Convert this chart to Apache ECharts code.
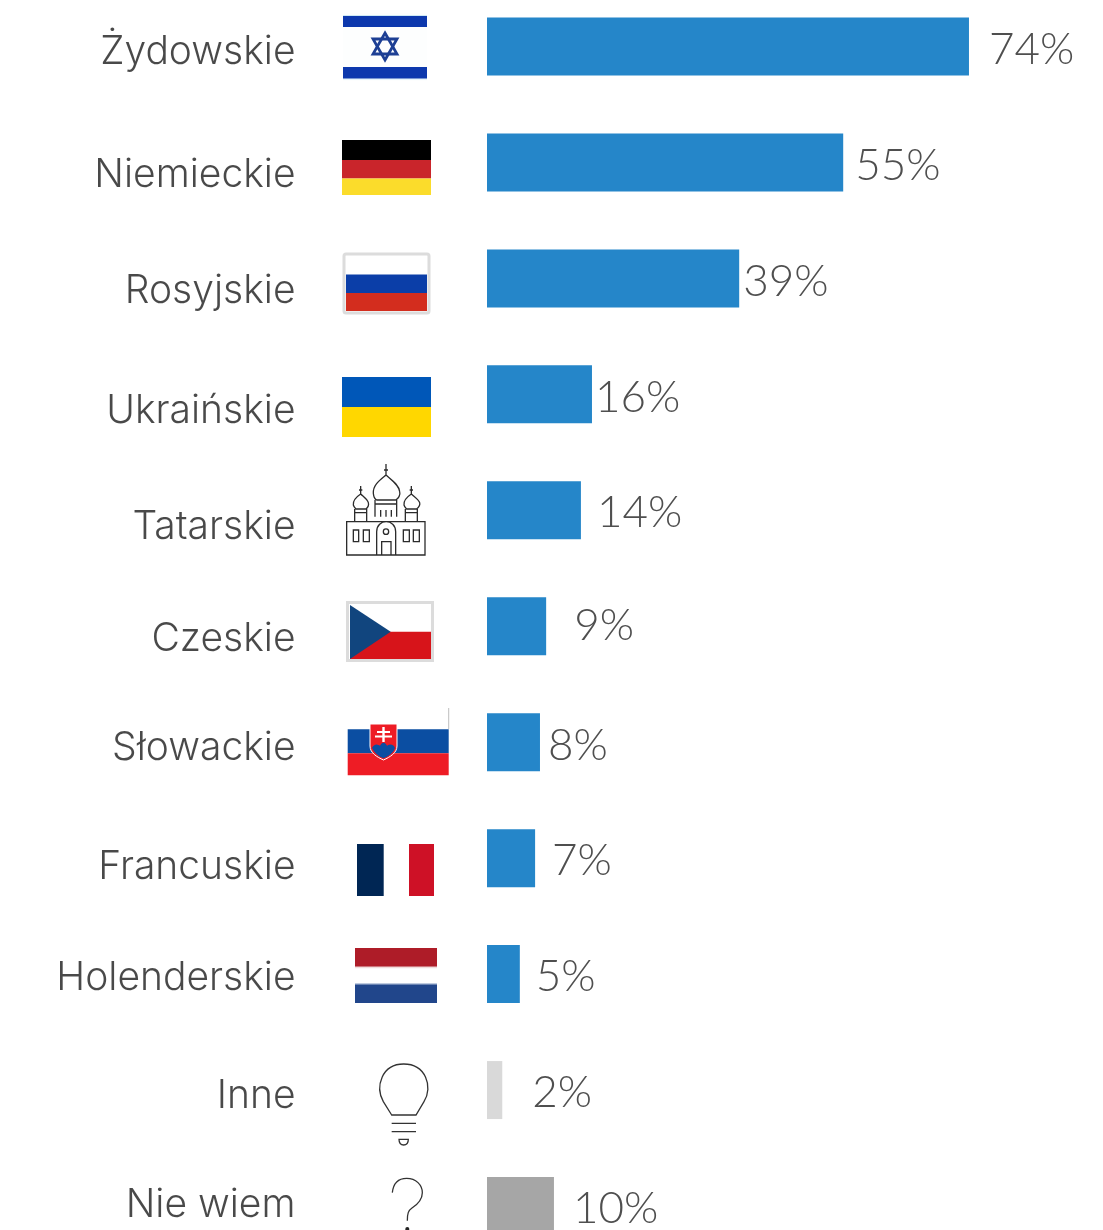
<!DOCTYPE html>
<html><head><meta charset="utf-8">
<style>html,body{margin:0;padding:0;background:#fff}#c{width:1103px;height:1230px}</style>
<script src="https://cdn.jsdelivr.net/npm/echarts@6/dist/echarts.min.js"></script>
</head><body><div id="c"></div>
<script>
const categories = ['Żydowskie','Niemieckie','Rosyjskie','Ukraińskie','Tatarskie','Czeskie','Słowackie','Francuskie','Holenderskie','Inne','Nie wiem'];
const barValues = [74.15,54.8,38.8,16.15,14.45,9.1,8.15,7.4,5.05,2.35,10.3];
const valueLabels = ['74%','55%','39%','16%','14%','9%','8%','7%','5%','2%','10%'];

// layout nudges, separate from the data
const BLUE='#2586c9', LIGHT='#d9d9d9', MID='#a6a6a6';
const barColors=[BLUE,BLUE,BLUE,BLUE,BLUE,BLUE,BLUE,BLUE,BLUE,LIGHT,MID];
const valueNudge=[[20,3],[12,3],[4,3],[3,3],[16,3],[28,0],[8,4],[17,3],[16,3],[30,3],[19,3]];
const nameNudge=[6,13,13,17,17,13.5,6.5,9.5,4.5,6.5,-0.5];
const VAL_FONT='Lato', CAT_FONT='Inter';

function rect(x,y,w,h,fill,extra){return Object.assign({type:'rect',shape:{x,y,width:w,height:h},style:{fill}},extra||{});}
function poly(points,fill,extra){return Object.assign({type:'polygon',shape:{points},style:{fill}},extra||{});}
// line icon: path written in 3x crop coordinates, placed at ox,oy
function icon(d,ox,oy,w,h,lw,color){
  return {type:'path',shape:{pathData:'M0 0 M'+(w*3)+' '+(h*3)+' '+d,x:ox,y:oy,width:w,height:h},layout:'cover',
    style:{fill:'none',stroke:color||'#2b2b2b',lineWidth:lw||1.3}};
}
const gfx=[
  // Israel
  rect(343,13,84,68,'#fdfefe'),
  rect(343,15,84,1,'#cfeaf5'),rect(343,78.5,84,1,'#cfeaf5'),
  rect(343,16,84,11,'#0d38ad'),rect(343,67,84,11.5,'#0d38ad'),
  {type:'polygon',shape:{points:[[385,33],[397,54],[373,54]]},style:{fill:null,stroke:'#1d3f94',lineWidth:2.8}},
  {type:'polygon',shape:{points:[[385,60],[397,39],[373,39]]},style:{fill:null,stroke:'#1d3f94',lineWidth:2.8}},
  // Germany
  rect(342,140,89,20,'#000'),rect(342,160,89,18.5,'#c9252b'),rect(342,178.5,89,16.5,'#fbdc2b'),
  // Russia
  {type:'rect',shape:{x:344,y:254,width:85,height:59,r:2},style:{fill:'#fff',stroke:'#dcdcdc',lineWidth:3}},
  rect(346,274.5,81,18.5,'#0b3ea8'),rect(346,293,81,18,'#d32d1e'),
  // Ukraine
  rect(342,377,89,30,'#0057b8'),rect(342,407,89,30,'#ffd700'),
  // Czech
  rect(347.5,602.5,85,58,'#fff',{style:{fill:'#fff',stroke:'#dcdcdc',lineWidth:3}}),
  rect(350,631.7,81,27.3,'#d7141a'),
  poly([[350,605],[390.7,631.7],[350,659]],'#11457e'),
  // Slovakia
  rect(448.2,708,1,21,'#bdbdbd'),
  rect(347.7,729.3,101,24,'#0b4ea2'),rect(347.7,753.3,101,22,'#ee1c25'),
  // France
  rect(357,844,26.7,52,'#002654'),rect(409,844,25,52,'#ce1126'),
  // Netherlands
  rect(355,948,82,18.7,'#ae1c28'),rect(355,984.3,82,18.7,'#21468b'),
  rect(355,966.7,82,1.5,'#f0dcdc'),rect(355,983.2,82,1.1,'#a9b8d4'),
  {type:'circle',shape:{cx:407.3,cy:1229,r:2},style:{fill:'#222'}}
];
// pieces that need free-form paths go through a custom series
const pathIcons=[
  icon('M50 215H285V315H50Z M168 42V75 M162 60H174 M168 75C150 90 128 105 130 130C131 140 135 148 140 150H197C205 146 212 135 209 125C207 105 185 90 168 75Z M135 150V200 M200 150V200 M135 162H200 M152 180V200 M168 180V200 M184 180V200 '+
   'M92 108V132 M87 120H97 M92 132C80 140 68 150 70 165C72 172 76 175 78 177H108C114 172 117 165 115 158C112 148 100 140 92 132Z M74 177V215 M110 177V215 M74 188H110 '+
   'M244 108V132 M239 120H249 M244 132C232 140 220 150 222 165C224 172 228 175 230 177H260C266 172 271 165 269 158C266 148 252 140 244 132Z M226 177V215 M262 177V215 M226 188H262 '+
   'M140 315V245C140 205 197 205 197 245V315 M155 315V275H183V315 M160 245C160 234 176 234 176 245C176 256 160 256 160 245Z '+
   'M70 240H86V275H70Z M100 240H118V275H100Z M220 240H238V275H220Z M250 240H268V275H250Z',330,450,130,110,1.3,'#2b2b2b'),
  {type:'path',shape:{pathData:'M370 724H397V746C397 753 390 757 383.5 760C377 757 370 753 370 746Z',x:370,y:724,width:27,height:36},layout:'cover',style:{fill:'#ee1c25',stroke:'#fff',lineWidth:1}},
  {type:'path',shape:{pathData:'M372 748C375 743 378 745 380 746C382 742 385 742 387 746C390 744 393 744 395 748C394 753 388 757 383.5 758.5C379 757 374 753 372 748Z',x:372,y:742.5,width:23,height:16},layout:'cover',style:{fill:'#0b4ea2'}},
  rect(382.3,727,2.4,15,'#fff'),rect(377,731,13,2,'#fff'),rect(375,735.5,17,2,'#fff'),
  icon('M155 885L130 845C105 800 125 732 191 732C257 732 280 800 252 845L228 885Z M155 910H228 M155 935H228 M177 958H205C205 970 198 975 191 975C184 975 177 970 177 958Z',340,820,130,340,1.3,'#333'),
  icon('M157 1118C160 1090 175 1075 200 1075C228 1075 247 1095 247 1118C247 1140 230 1155 215 1165C205 1172 202 1180 202 1202',340,820,130,410,1.3,'#333')
];

const option={
  animation:false,
  backgroundColor:'#fff',
  grid:{left:487,top:-11.5,width:650,height:1275.5,containLabel:false,outerBoundsMode:'none'},
  xAxis:{type:'value',min:0,max:100,show:false},
  yAxis:{type:'category',data:categories,inverse:true,show:false},
  graphic:{elements:gfx},
  series:[
    {type:'bar',barWidth:58,silent:true,
     data:barValues.map((v,i)=>({value:v,
       itemStyle:{color:barColors[i]},
       label:{show:true,position:'right',distance:valueNudge[i][0],offset:[0,valueNudge[i][1]],
         formatter:valueLabels[i],fontFamily:VAL_FONT,fontWeight:300,fontSize:44,color:'#4f4f4f'}}))},
    {type:'scatter',symbolSize:1,silent:true,itemStyle:{color:'transparent'},
     data:categories.map((c,i)=>({value:[0,i],name:c,
       label:{show:true,position:'left',distance:191,offset:[0,nameNudge[i]],formatter:c,
         fontFamily:CAT_FONT,fontWeight:300,fontSize:39,color:'#1c1c1c'}}))},
    {type:'custom',coordinateSystem:'none',silent:true,clip:false,data:[0],
     renderItem:()=>({type:'group',children:pathIcons})}
  ]
};
echarts.init(document.getElementById('c')).setOption(option);
</script></body></html>
